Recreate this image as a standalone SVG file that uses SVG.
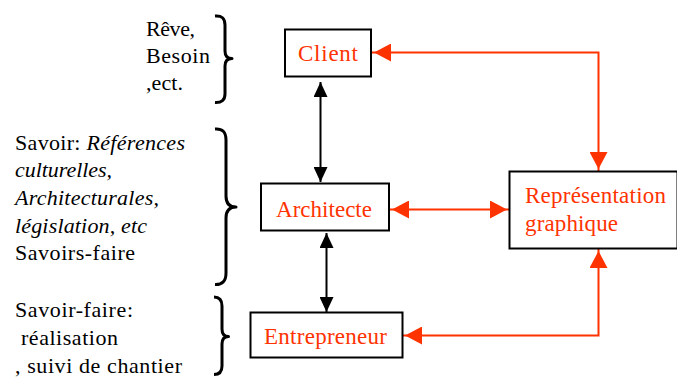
<svg xmlns="http://www.w3.org/2000/svg" width="677" height="380" viewBox="0 0 677 380">
<style>
.box{fill:#fff;stroke:#000;stroke-width:2}
text{font-family:"Liberation Serif",serif}
.lbl{font-size:23px;fill:#ff3300}
.txt{font-size:22px;fill:#000}
.it{font-style:italic}
.red{fill:none;stroke:#ff3300;stroke-width:2}
.blk{fill:none;stroke:#000;stroke-width:2}
.brace{fill:none;stroke:#000;stroke-width:3;stroke-linejoin:round}
</style>
<defs>
<marker id="ra" viewBox="0 0 20 18" refX="19" refY="9" markerWidth="20" markerHeight="18" markerUnits="userSpaceOnUse" orient="auto-start-reverse">
<path d="M0,0 L17,9 L0,18 z" fill="#ff3300"/>
</marker>
<marker id="ba" viewBox="0 0 16 14" refX="15" refY="7" markerWidth="16" markerHeight="14" markerUnits="userSpaceOnUse" orient="auto-start-reverse">
<path d="M0,0 L15,7 L0,14 z" fill="#000"/>
</marker>
</defs>
<g id="connectors">
<path class="blk" d="M320.5,82 V182" marker-start="url(#ba)" marker-end="url(#ba)"/>
<path class="blk" d="M326.5,233 V312" marker-start="url(#ba)" marker-end="url(#ba)"/>
<path class="red" d="M372,52.5 H598.5 V171" marker-start="url(#ra)" marker-end="url(#ra)"/>
<path class="red" d="M390,209.5 H509" marker-start="url(#ra)" marker-end="url(#ra)"/>
<path class="red" d="M403,335.5 H598.5 V249" marker-start="url(#ra)" marker-end="url(#ra)"/>
</g>
<g id="client">
<rect class="box" x="285" y="29.5" width="86" height="47"/>
<text class="lbl" x="298" y="61" textLength="60" lengthAdjust="spacing">Client</text>
</g>
<g id="architecte">
<rect class="box" x="261" y="183.5" width="128" height="47"/>
<text class="lbl" x="276" y="217" textLength="96" lengthAdjust="spacing">Architecte</text>
</g>
<g id="entrepreneur">
<rect class="box" x="250.5" y="312.5" width="152" height="45"/>
<text class="lbl" x="264" y="344" textLength="123" lengthAdjust="spacing">Entrepreneur</text>
</g>
<g id="representation">
<rect class="box" x="509.5" y="171.5" width="168" height="77"/>
<text class="lbl" x="525" y="203" textLength="141" lengthAdjust="spacing">Représentation</text>
<text class="lbl" x="525" y="231" textLength="93" lengthAdjust="spacing">graphique</text>
</g>
<g id="annotation-client">
<text class="txt" x="146" y="36" textLength="49" lengthAdjust="spacing">Rêve,</text>
<text class="txt" x="146" y="63" textLength="64" lengthAdjust="spacing">Besoin</text>
<text class="txt" x="146" y="90" textLength="37" lengthAdjust="spacing">,ect.</text>
<path class="brace" d="M215,16 Q225,15 225,25 V51 Q225,58.5 232,58.5 Q225,58.5 225,66 V94 Q225,103 215,102.5"/>
</g>
<g id="annotation-architecte">
<text class="txt" x="15" y="150" textLength="170" lengthAdjust="spacing">Savoir: <tspan class="it">Références</tspan></text>
<text class="txt it" x="15" y="177" textLength="97" lengthAdjust="spacing">culturelles,</text>
<text class="txt it" x="15" y="205" textLength="144" lengthAdjust="spacing">Architecturales,</text>
<text class="txt it" x="15" y="233" textLength="132" lengthAdjust="spacing">législation, etc</text>
<text class="txt" x="15" y="260" textLength="120" lengthAdjust="spacing">Savoirs-faire</text>
<path class="brace" d="M215,129 Q226,128 226,140 V196 Q226,207 236,207 Q226,207 226,218 V273 Q226,285 215,284.5"/>
</g>
<g id="annotation-entrepreneur">
<text class="txt" x="15" y="317" textLength="118" lengthAdjust="spacing">Savoir-faire:</text>
<text class="txt" x="21" y="345" textLength="97" lengthAdjust="spacing">réalisation</text>
<text class="txt" x="15" y="373" textLength="167" lengthAdjust="spacing">, suivi de chantier</text>
<path class="brace" d="M214,297 Q222,297 222,306 V329 Q222,336.5 228.5,336.5 Q222,336.5 222,344 V366 Q222,374.5 214,374.5"/>
</g>
</svg>
